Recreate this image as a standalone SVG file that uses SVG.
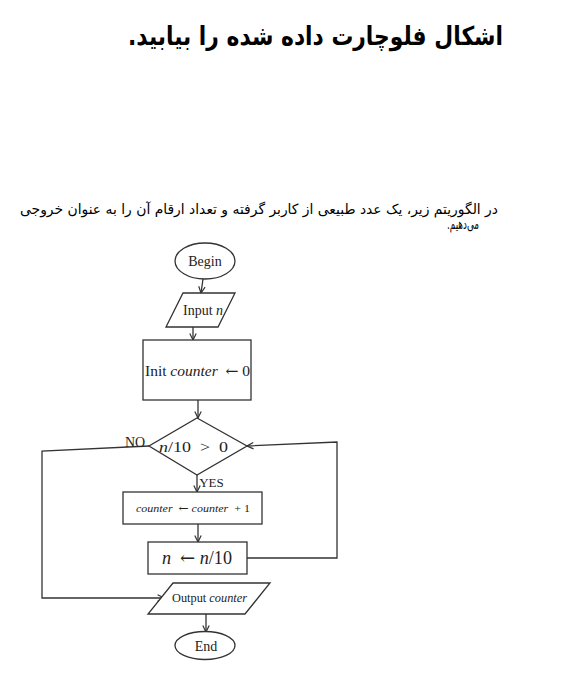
<svg xmlns="http://www.w3.org/2000/svg" width="586" height="692" viewBox="0 0 586 692">
<style>
.shape{fill:#fff;stroke:#333;stroke-width:1.3}
.conn{fill:none;stroke:#333;stroke-width:1.3}
.lbl{font-family:"Liberation Serif","DejaVu Serif",serif;fill:#222}
.it{font-style:italic}
.ar{font-family:"DejaVu Serif",serif;font-style:normal}
.fa{font-family:"DejaVu Sans","Noto Sans",sans-serif;fill:#000}
</style>
<defs>
<marker id="arr" viewBox="0 0 10 10" refX="9" refY="5" markerWidth="8" markerHeight="8" markerUnits="userSpaceOnUse" orient="auto">
<path d="M1,1 L9,5 L1,9" fill="none" stroke="#333" stroke-width="1.5"/>
</marker>
</defs>
<rect width="586" height="692" fill="#fff"/>
<g id="title">
<text class="fa" x="315.5" y="45" font-size="26" font-weight="bold" direction="rtl" text-anchor="middle" textLength="375" lengthAdjust="spacingAndGlyphs">اشکال فلوچارت داده شده را بیابید.</text>
</g>
<g id="intro">
<text class="fa" x="259" y="214" font-size="14" direction="rtl" text-anchor="middle" textLength="478" lengthAdjust="spacingAndGlyphs">در الگوریتم زیر، یک عدد طبیعی از کاربر گرفته و تعداد ارقام آن را به عنوان خروجی</text>
<text class="fa" x="463" y="229" font-size="14" direction="rtl" text-anchor="middle" textLength="32" lengthAdjust="spacingAndGlyphs">می‌دهیم.</text>
</g>
<g id="connectors">
<line class="conn" x1="203" y1="279" x2="201" y2="293" marker-end="url(#arr)"/>
<line class="conn" x1="193" y1="327" x2="193" y2="340" marker-end="url(#arr)"/>
<line class="conn" x1="198" y1="400" x2="198" y2="418" marker-end="url(#arr)"/>
<line class="conn" x1="197" y1="475" x2="197" y2="492" marker-end="url(#arr)"/>
<line class="conn" x1="198" y1="524" x2="198" y2="542" marker-end="url(#arr)"/>
<polyline class="conn" points="247,558 337,558 337,442 247,446" marker-end="url(#arr)"/>
<polyline class="conn" points="149,446 42,451 42,598 164,598" marker-end="url(#arr)"/>
<line class="conn" x1="206" y1="614" x2="206" y2="632" marker-end="url(#arr)"/>
</g>
<g id="begin">
<ellipse class="shape" cx="205" cy="261" rx="30" ry="18"/>
<text class="lbl" x="205" y="266" font-size="14" text-anchor="middle">Begin</text>
</g>
<g id="input">
<polygon class="shape" points="183,293 235,293 218,327 166,327"/>
<text class="lbl" x="203" y="315" font-size="14" text-anchor="middle">Input <tspan class="it">n</tspan></text>
</g>
<g id="init">
<rect class="shape" x="143" y="340" width="108" height="60"/>
<text class="lbl" x="197.5" y="376" font-size="15" text-anchor="middle" textLength="105" lengthAdjust="spacingAndGlyphs">Init <tspan class="it">counter</tspan>&#160;&#160;<tspan class="ar">←</tspan>&#160;0</text>
</g>
<g id="decision">
<polygon class="shape" points="197,418 247,446 197,475 149,446"/>
<text class="lbl" x="193.5" y="452" font-size="15" text-anchor="middle" textLength="69" lengthAdjust="spacingAndGlyphs"><tspan class="it">n</tspan>/10&#160;&#160;&gt;&#160;&#160;0</text>
<text class="lbl" x="135" y="447" font-size="14" text-anchor="middle">NO</text>
<text class="lbl" x="211.5" y="487" font-size="13" text-anchor="middle">YES</text>
</g>
<g id="increment">
<rect class="shape" x="123" y="492" width="139" height="32"/>
<text class="lbl" x="193" y="512" font-size="11" text-anchor="middle" textLength="114" lengthAdjust="spacingAndGlyphs"><tspan class="it">counter</tspan>&#160;&#160;<tspan class="ar">←</tspan>&#160;<tspan class="it">counter</tspan>&#160;&#160;+&#160;1</text>
</g>
<g id="divide">
<rect class="shape" x="148" y="542" width="99" height="32"/>
<text class="lbl" x="197" y="564" font-size="18" text-anchor="middle" textLength="70" lengthAdjust="spacingAndGlyphs"><tspan class="it">n</tspan>&#160;&#160;<tspan class="ar">←</tspan>&#160;<tspan class="it">n</tspan>/10</text>
</g>
<g id="output">
<polygon class="shape" points="173,583 270,583 245,614 148,614"/>
<text class="lbl" x="209.5" y="602" font-size="12" text-anchor="middle" textLength="75" lengthAdjust="spacingAndGlyphs">Output <tspan class="it">counter</tspan></text>
</g>
<g id="end">
<ellipse class="shape" cx="205" cy="645.5" rx="30" ry="14"/>
<text class="lbl" x="206" y="651" font-size="14" text-anchor="middle">End</text>
</g>
</svg>
